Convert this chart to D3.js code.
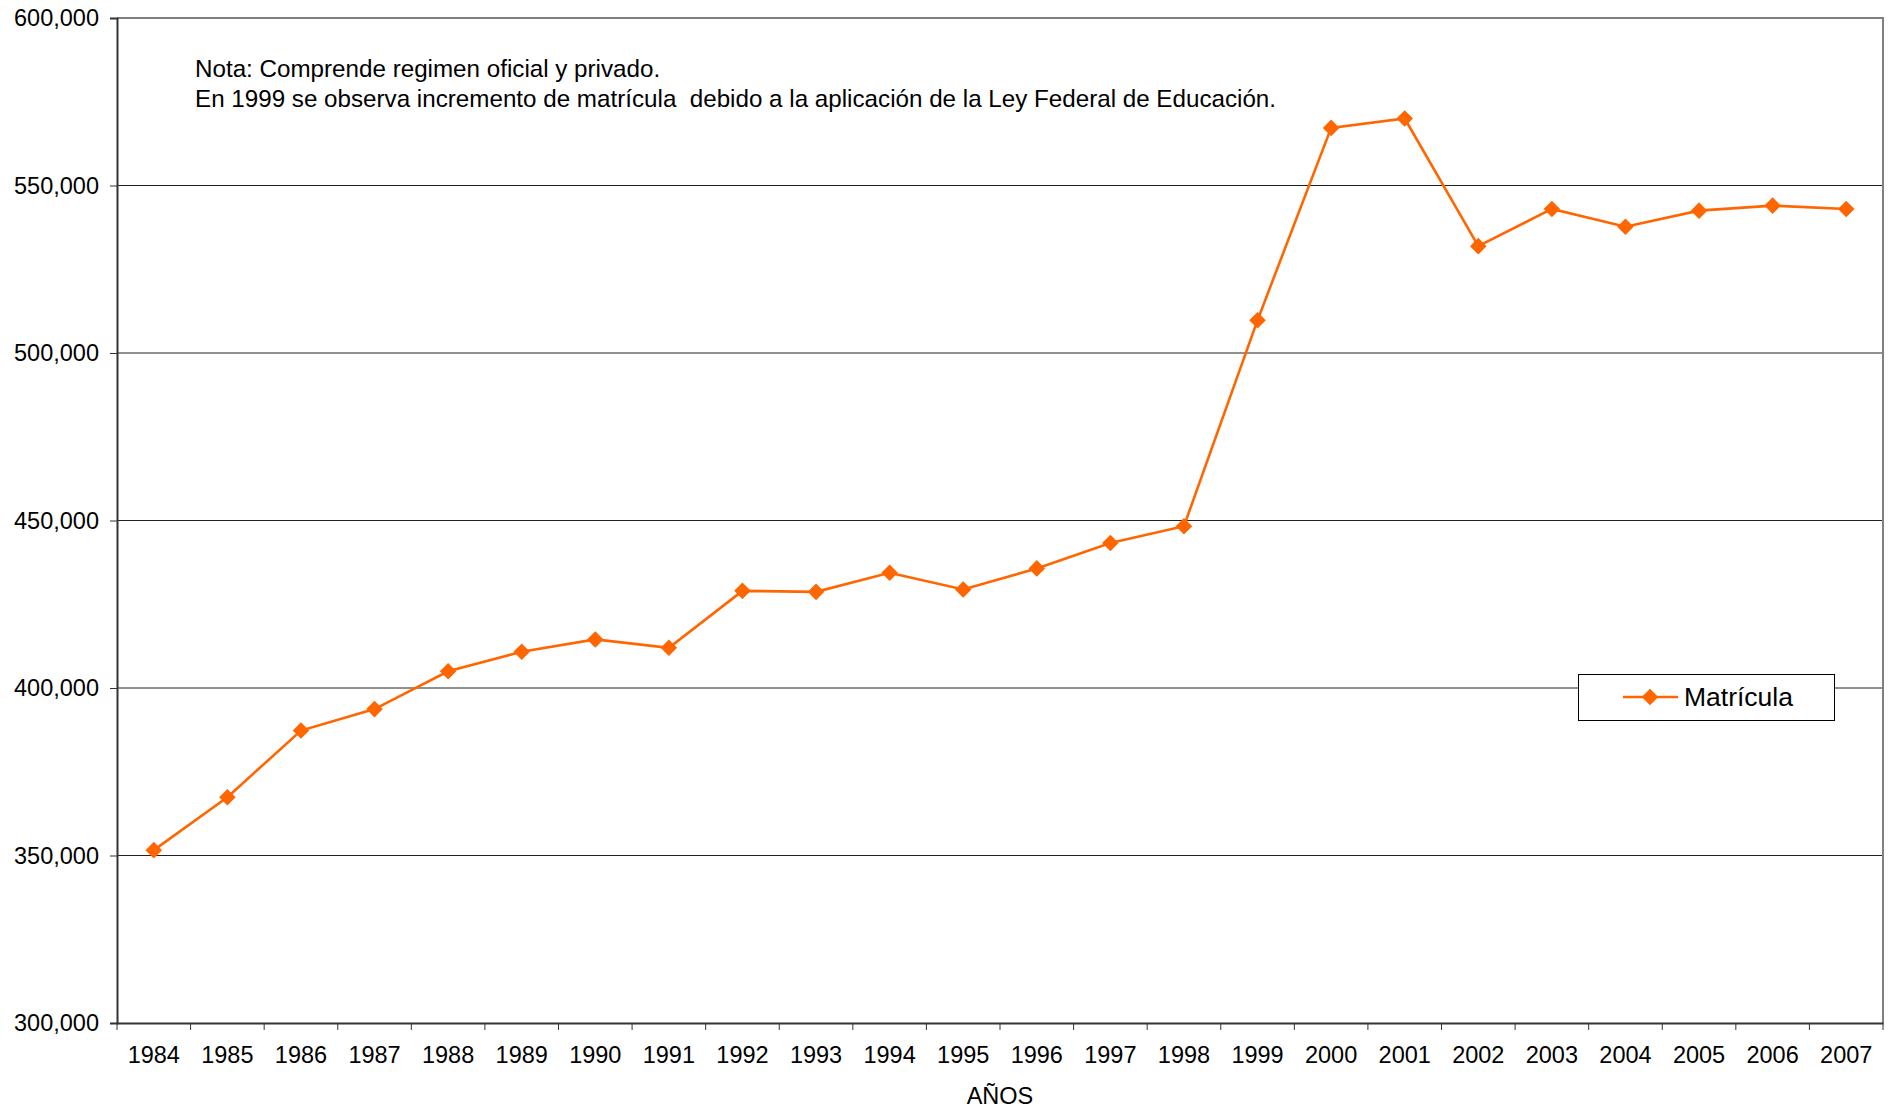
<!DOCTYPE html>
<html>
<head>
<meta charset="utf-8">
<script src="https://cdn.jsdelivr.net/npm/d3@7/dist/d3.min.js"></script>
<style>
  body { margin: 0; background: #fff; }
  svg text { font-family: "Liberation Sans", Arial, sans-serif; fill: #000; }
</style>
</head>
<body>
<div id="chart"></div>
<script>
var years = ["1984","1985","1986","1987","1988","1989","1990","1991","1992","1993","1994","1995",
  "1996","1997","1998","1999","2000","2001","2002","2003","2004","2005","2006","2007"];
var matricula = [351600, 367400, 387300, 393700, 405000, 410800, 414500, 412000, 429000, 428700,
  434400, 429400, 435700, 443300, 448300, 509800, 567200, 570000, 531900, 543000, 537700, 542500,
  544000, 543000];
var yTicks = [300000, 350000, 400000, 450000, 500000, 550000, 600000];
var notes = ["Nota: Comprende regimen oficial y privado.",
  "En 1999 se observa incremento de matrícula  debido a la aplicación de la Ley Federal de Educación."];

var W = 1890, H = 1108;
var m = {left: 117, right: 7, top: 18, bottom: 85};
var svg = d3.select("#chart").append("svg")
  .attr("width", W).attr("height", H);

var x = d3.scaleBand().domain(years).range([m.left, W - m.right]);
var y = d3.scaleLinear().domain([300000, 600000]).range([H - m.bottom, m.top]);
var fmt = d3.format(",");

// grid
svg.append("g").selectAll("line")
  .data(yTicks.slice(1, -1))
  .enter().append("line")
  .attr("x1", m.left).attr("x2", W - m.right)
  .attr("y1", function(d) { return y(d); }).attr("y2", function(d) { return y(d); })
  .attr("stroke", "#222").attr("stroke-width", 1);

// plot frame top/right
svg.append("path")
  .attr("d", "M" + m.left + "," + y(600000) + "H" + (W - m.right) + "V" + y(300000))
  .attr("fill", "none").attr("stroke", "#808080").attr("stroke-width", 2);

// y axis
var yAxis = svg.append("g")
  .attr("transform", "translate(" + m.left + ",0)")
  .call(d3.axisLeft(y).tickValues(yTicks).tickFormat(fmt).tickSize(7).tickPadding(11));
yAxis.select(".domain").attr("stroke", "#333").attr("stroke-width", 2);
yAxis.selectAll(".tick line").attr("stroke", "#333");
yAxis.selectAll("text").style("font-size", "23.5px")
  .style("font-family", "'Liberation Sans', Arial, sans-serif").attr("fill", "#000");

// x axis with ticks at band boundaries
var xAxis = svg.append("g")
  .attr("transform", "translate(0," + y(300000) + ")")
  .call(d3.axisBottom(x).tickSize(0).tickPadding(23));
xAxis.select(".domain").attr("stroke", "#333").attr("stroke-width", 2);
xAxis.selectAll("text").style("font-size", "23.5px")
  .style("font-family", "'Liberation Sans', Arial, sans-serif").attr("fill", "#000");
xAxis.selectAll(".bnd").data(years.concat(["end"])).enter().append("line")
  .attr("class", "bnd")
  .attr("x1", function(d, i) { return m.left + i * x.bandwidth(); })
  .attr("x2", function(d, i) { return m.left + i * x.bandwidth(); })
  .attr("y1", 0).attr("y2", 7)
  .attr("stroke", "#333").attr("stroke-width", 1);

svg.append("text")
  .attr("x", (m.left + W - m.right) / 2).attr("y", 1104)
  .attr("text-anchor", "middle")
  .style("font-size", "23.5px")
  .text("AÑOS");

// notes
svg.append("g").selectAll("text")
  .data(notes).enter().append("text")
  .attr("x", 195).attr("y", function(d, i) { return 77 + i * 30; })
  .style("font-size", "24.2px")
  .style("white-space", "pre")
  .text(function(d) { return d; });

// series
var cx = function(d, i) { return x(years[i]) + x.bandwidth() / 2; };
var line = d3.line().x(cx).y(function(d) { return y(d); });
svg.append("path")
  .datum(matricula)
  .attr("d", line)
  .attr("fill", "none").attr("stroke", "#FF6600").attr("stroke-width", 2.6);

var diamond = d3.symbol().type(d3.symbolDiamond2).size(175);
svg.append("g").selectAll("path")
  .data(matricula).enter().append("path")
  .attr("d", diamond)
  .attr("transform", function(d, i) { return "translate(" + cx(d, i) + "," + y(d) + ")"; })
  .attr("fill", "#FF6600");

// legend
var lg = svg.append("g");
lg.append("rect")
  .attr("x", 1578.5).attr("y", 674.5).attr("width", 256).attr("height", 46)
  .attr("fill", "#fff").attr("stroke", "#000").attr("stroke-width", 1);
lg.append("line")
  .attr("x1", 1623).attr("x2", 1678).attr("y1", 697).attr("y2", 697)
  .attr("stroke", "#FF6600").attr("stroke-width", 2.6);
lg.append("path")
  .attr("d", diamond)
  .attr("transform", "translate(1650,697)")
  .attr("fill", "#FF6600");
lg.append("text")
  .attr("x", 1684).attr("y", 706)
  .style("font-size", "26.5px")
  .text("Matrícula");
</script>
</body>
</html>
